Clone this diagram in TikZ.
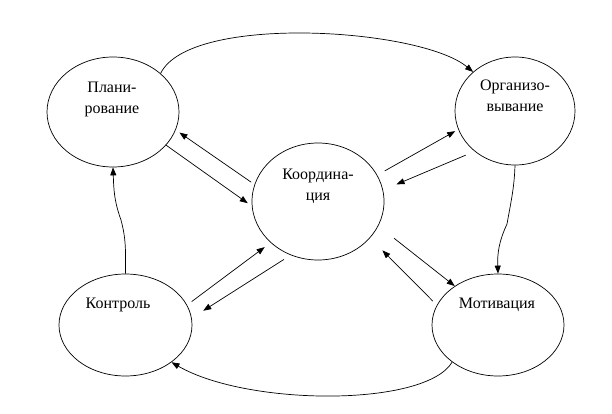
\documentclass[tikz,border=0pt]{standalone}
\usepackage{fontspec}
\setmainfont{Liberation Serif}
\usetikzlibrary{shapes.geometric,arrows.meta}
\begin{document}
\begin{tikzpicture}[x=1pt,y=1pt,
    blob/.style={draw,ellipse,line width=0.7pt,inner sep=0pt},
    txt/.style={anchor=north,inner sep=0pt,align=center,font=\fontsize{16}{21}\selectfont},
    arr/.style={-{Triangle[length=8pt,width=6pt]},line width=0.7pt}]
  \useasboundingbox (0,0) rectangle (612,413);
  % the five functions
  \node[blob,minimum width=132pt,minimum height=110pt] (plan) at (113,301) {};
  \node[blob,minimum width=120pt,minimum height=108pt] (org) at (515,302) {};
  \node[blob,minimum width=132pt,minimum height=117pt] (coord) at (318,211.5) {};
  \node[blob,minimum width=133pt,minimum height=102pt] (ctrl) at (125.5,88) {};
  \node[blob,minimum width=132pt,minimum height=102pt] (motiv) at (498,88) {};
  \node[txt] (plantext) at (112,331.6) {Плани-\\рование};
  \node[txt] (orgtext) at (515,333) {Организо-\\вывание};
  \node[txt] (coordtext) at (318,244.3) {Координа-\\ция};
  \node[txt] (ctrltext) at (118,115.3) {Контроль};
  \node[txt] (motivtext) at (497,115.3) {Мотивация};
  % outer ring
  \draw[arr] (plan.39) .. controls +(29,60) and +(-53,44) .. (org.137);
  \coordinate (omk) at (507,189);
  \draw[arr] (org.south) to[out=-92,in=80] (omk) to[out=-115,in=92] (motiv.north);
  \draw[arr] (motiv.219) .. controls +(-27,-45) and +(76,-44) .. (ctrl.-39);
  \coordinate (cpk) at (121,193);
  \draw[arr] (ctrl.north) to[out=90,in=-75] (cpk) to[out=110,in=-88] (plan.south);
  % links with the centre
  \draw[arr,shorten >=5pt] (plan.-32) -- (coord.184);
  \draw[arr,shorten <=4pt,shorten >=4.5pt] (coord.165) -- (plan.-16);
  \draw[arr,shorten <=8.6pt,shorten >=3.5pt] (coord.24) -- (org.198);
  \draw[arr,shorten <=9.7pt,shorten >=14.6pt] (org.225) -- (coord.10);
  \draw[arr,shorten <=20pt] (coord.-22) -- (motiv.138);
  \draw[arr,shorten <=5.7pt,shorten >=17.5pt] (motiv.162) -- (coord.-35);
  \draw[arr,shorten <=5.7pt,shorten >=7.4pt] (ctrl.18) -- (coord.221);
  \draw[arr,shorten <=8pt,shorten >=13.6pt] (coord.243) -- (ctrl.6);
\end{tikzpicture}
\end{document}
